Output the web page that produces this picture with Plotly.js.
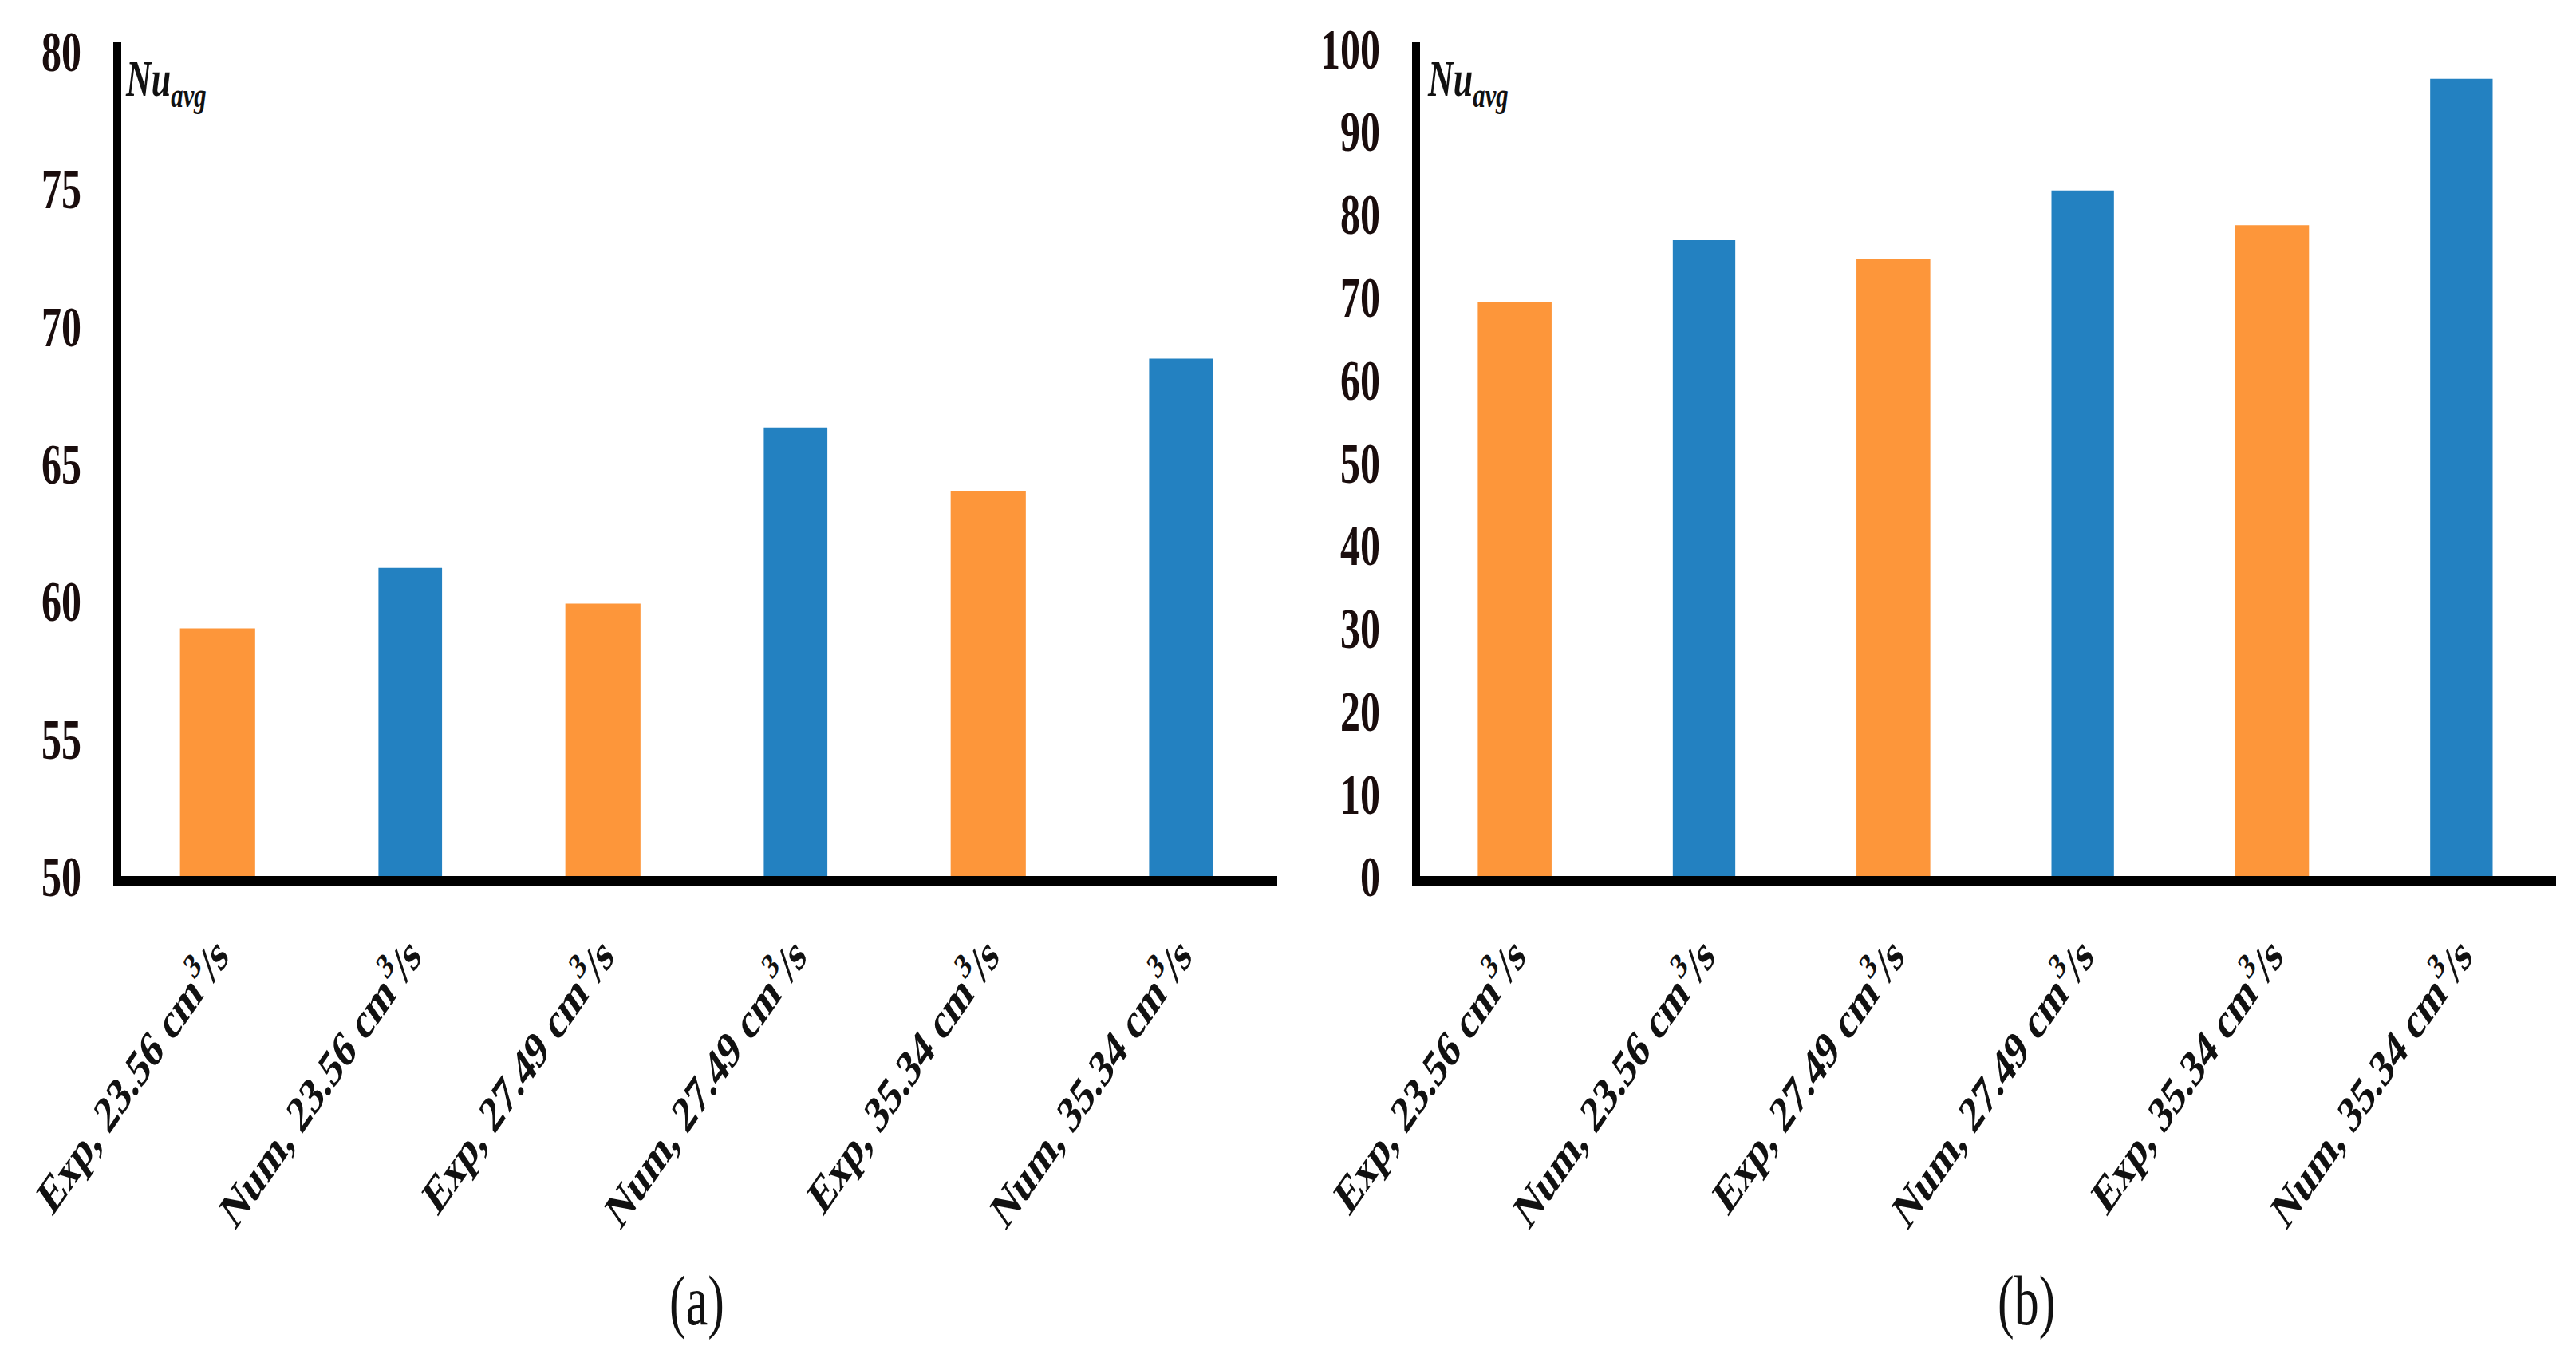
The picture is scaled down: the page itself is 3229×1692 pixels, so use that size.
<!DOCTYPE html>
<html>
<head>
<meta charset="utf-8">
<script src="https://cdn.plot.ly/plotly-3.0.1.min.js"></script>
<style>
  html, body { margin: 0; padding: 0; background: #ffffff; }
  #wrap { width: 3229px; height: 1692px; overflow: hidden; background: #ffffff; }
  #plot { width: 3229px; height: 1167px; transform: scaleY(1.44987); transform-origin: 0 0; }
</style>
</head>
<body>
<div id="wrap"><div id="plot"></div></div>
<script>
// ---- data ----
const categories = [
  'Exp, 23.56 cm<sup>3</sup>/s',
  'Num, 23.56 cm<sup>3</sup>/s',
  'Exp, 27.49 cm<sup>3</sup>/s',
  'Num, 27.49 cm<sup>3</sup>/s',
  'Exp, 35.34 cm<sup>3</sup>/s',
  'Num, 35.34 cm<sup>3</sup>/s'
];
const expCategories = [categories[0], categories[2], categories[4]];
const numCategories = [categories[1], categories[3], categories[5]];
const expA = [59.0, 59.9, 64.0];
const numA = [61.2, 66.3, 68.8];
const expB = [69.3, 74.5, 78.6];
const numB = [76.8, 82.8, 96.3];
const ticksA = [50, 55, 60, 65, 70, 75, 80];
const ticksB = [0, 10, 20, 30, 40, 50, 60, 70, 80, 90, 100];
const panelLabels = ['(a)', '(b)'];
const yLabel = '<i>Nu</i><sub><i>avg</i></sub>';

// ---- styles ----
const ORANGE = '#FD963A';
const BLUE = '#2381C1';
const serif = 'Liberation Serif, Times New Roman, serif';

function bar(x, y, color, width, xa, ya) {
  return { type: 'bar', x: x, y: y, xaxis: xa, yaxis: ya,
           marker: { color: color, line: { width: 0 } }, width: width,
           hoverinfo: 'skip', showlegend: false };
}

const data = [
  bar(expCategories, expA, ORANGE, 0.39, 'x', 'y'),
  bar(numCategories, numA, BLUE, 0.33, 'x', 'y'),
  bar(expCategories, expB, ORANGE, 0.39, 'x2', 'y2'),
  bar(numCategories, numB, BLUE, 0.33, 'x2', 'y2')
];

function xAxis(domain) {
  return {
    domain: domain, type: 'category', categoryorder: 'array', categoryarray: categories,
    range: [-0.5, 5.5], showline: true, linecolor: '#000', linewidth: 8,
    showgrid: false, zeroline: false, ticks: '', tickangle: -45,
    ticklabelstandoff: 16,
    tickfont: { family: serif, size: 45, color: '#111', weight: 'bold' }
  };
}
function yAxis(range, ticks, anchor) {
  return {
    domain: [0.35106, 0.96868], range: range, anchor: anchor,
    tickmode: 'array', tickvals: ticks, ticktext: ticks.map(String),
    showline: true, linecolor: '#000', linewidth: 10,
    showgrid: false, zeroline: false, ticks: '', ticklabelstandoff: 30,
    tickfont: { family: serif, size: 50, color: '#1a0d0d', weight: 'bold' }
  };
}

const layout = {
  width: 3229, height: 1167,
  margin: { l: 0, r: 0, t: 0, b: 0, pad: 0 },
  paper_bgcolor: '#ffffff', plot_bgcolor: '#ffffff',
  barmode: 'overlay', showlegend: false,
  xaxis: Object.assign(xAxis([0.04707, 0.49582]), { anchor: 'y' }),
  yaxis: yAxis([50, 80.3], ticksA, 'x'),
  xaxis2: Object.assign(xAxis([0.55125, 0.99226]), { anchor: 'y2' }),
  yaxis2: yAxis([0, 100.7], ticksB, 'x2'),
  annotations: [
    { text: yLabel, xref: 'paper', yref: 'paper', x: 0.0480, y: 0.9640,
      xanchor: 'left', yanchor: 'top', showarrow: false,
      font: { family: serif, size: 44, color: '#111', weight: 'bold' } },
    { text: yLabel, xref: 'paper', yref: 'paper', x: 0.5535, y: 0.9640,
      xanchor: 'left', yanchor: 'top', showarrow: false,
      font: { family: serif, size: 44, color: '#111', weight: 'bold' } },
    { text: panelLabels[0], xref: 'paper', yref: 'paper', x: 0.2704, y: 0.0366,
      xanchor: 'center', yanchor: 'middle', showarrow: false,
      font: { family: serif, size: 62, color: '#111' } },
    { text: panelLabels[1], xref: 'paper', yref: 'paper', x: 0.7866, y: 0.0366,
      xanchor: 'center', yanchor: 'middle', showarrow: false,
      font: { family: serif, size: 62, color: '#111' } }
  ]
};

Plotly.newPlot('plot', data, layout, { staticPlot: true, displayModeBar: false });
</script>
</body>
</html>
